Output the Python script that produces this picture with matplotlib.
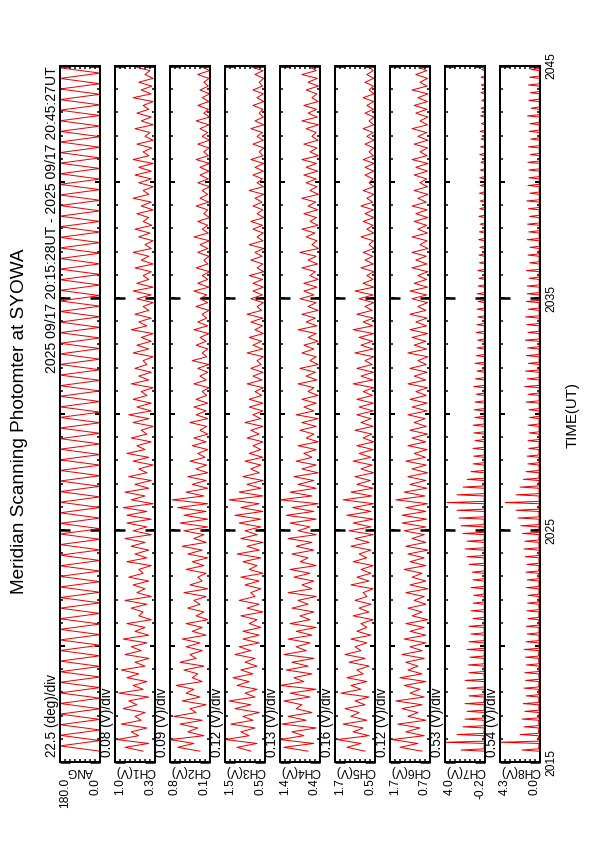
import matplotlib
matplotlib.use('Agg')
import matplotlib.pyplot as plt
import numpy as np
from matplotlib.ticker import MultipleLocator, FixedLocator

plt.rcParams['font.family'] = ['Liberation Sans', 'DejaVu Sans']

# time axis: minutes after 20:00 UT
START_MIN = 15 + 28 / 60.0
CH_STEP_SEC = 10.0     # channel samples (trough, peak, trough, ...)
ANG_STEP_SEC = 13.7    # scan angle samples
SPIKE_SEC = 3.0        # half width of a narrow spike (CH7, CH8)
TIME_TICKS = [15, 25, 35, 45]
TIME_LABELS = ['2015', '2025', '2035', '2045']

panel_names = ['ANG', 'CH1(V)', 'CH2(V)', 'CH3(V)', 'CH4(V)', 'CH5(V)', 'CH6(V)', 'CH7(V)', 'CH8(V)']
per_div = [22.5, 0.08, 0.09, 0.12, 0.13, 0.16, 0.12, 0.53, 0.54]
div_units = ['(deg)/div'] + ['(V)/div'] * 8
range_low = [0.0, 0.33, 0.10, 0.54, 0.40, 0.46, 0.70, -0.20, 0.00]
narrow_spikes = [False, False, False, False, False, False, True, True]

ang_deg = [0, 180] * 66

# per scan: peak values and trough values (V), 20 s apart, 20:15:28 -> 20:45:08
ch1_peak = [0.81, 0.94, 0.71, 0.87, 0.65, 0.84, 0.75, 0.91, 0.68, 0.78, 0.87, 0.65, 0.81, 0.71, 0.84,
            0.65, 0.78, 0.59, 0.71, 0.81, 0.62, 0.68, 0.75, 0.59, 0.78, 0.65, 0.71, 0.81, 0.68, 0.78,
            0.78, 0.84, 0.71, 0.81, 0.65, 0.75, 0.59, 0.68, 0.78, 0.62, 0.71, 0.55, 0.68, 0.75, 0.62,
            0.68, 0.55, 0.71, 0.59, 0.65, 0.52, 0.68, 0.62, 0.55, 0.71, 0.59, 0.65, 0.52, 0.62, 0.68,
            0.62, 0.52, 0.65, 0.55, 0.68, 0.49, 0.59, 0.65, 0.52, 0.62, 0.55, 0.68, 0.52, 0.59, 0.65,
            0.59, 0.68, 0.52, 0.62, 0.49, 0.65, 0.55, 0.62, 0.52, 0.68, 0.55, 0.59, 0.49, 0.65, 0.55]
ch1_base = [0.52, 0.43, 0.59, 0.46, 0.55, 0.49, 0.62, 0.43, 0.52, 0.46, 0.59, 0.49, 0.43, 0.55, 0.46,
            0.43, 0.49, 0.39, 0.52, 0.46, 0.39, 0.49, 0.43, 0.52, 0.39, 0.46, 0.43, 0.49, 0.39, 0.46,
            0.39, 0.46, 0.36, 0.49, 0.43, 0.39, 0.46, 0.36, 0.43, 0.49, 0.39, 0.46, 0.36, 0.43, 0.39,
            0.39, 0.46, 0.36, 0.43, 0.39, 0.46, 0.36, 0.43, 0.39, 0.36, 0.46, 0.39, 0.43, 0.36, 0.39,
            0.36, 0.43, 0.39, 0.36, 0.43, 0.39, 0.36, 0.41, 0.38, 0.43, 0.36, 0.39, 0.43, 0.36, 0.39,
            0.39, 0.36, 0.43, 0.38, 0.36, 0.41, 0.36, 0.39, 0.43, 0.36, 0.39, 0.38, 0.36, 0.41, 0.39]
ch2_peak = [0.68, 0.82, 0.50, 0.64, 0.75, 0.46, 0.60, 0.53, 0.71, 0.42, 0.57, 0.64, 0.46, 0.53, 0.60,
            0.42, 0.53, 0.35, 0.50, 0.39, 0.57, 0.46, 0.32, 0.53, 0.42, 0.50, 0.60, 0.39, 0.57, 0.64,
            0.57, 0.68, 0.78, 0.53, 0.42, 0.50, 0.35, 0.46, 0.32, 0.42, 0.39, 0.28, 0.46, 0.35, 0.39,
            0.35, 0.24, 0.39, 0.28, 0.32, 0.42, 0.24, 0.35, 0.28, 0.39, 0.32, 0.24, 0.35, 0.28, 0.39,
            0.32, 0.24, 0.35, 0.21, 0.32, 0.28, 0.39, 0.24, 0.32, 0.21, 0.35, 0.28, 0.24, 0.32, 0.28,
            0.28, 0.35, 0.21, 0.32, 0.24, 0.28, 0.35, 0.21, 0.32, 0.24, 0.28, 0.21, 0.32, 0.24, 0.28]
ch2_base = [0.28, 0.39, 0.21, 0.32, 0.24, 0.35, 0.17, 0.28, 0.39, 0.24, 0.32, 0.21, 0.35, 0.24, 0.28,
            0.17, 0.24, 0.14, 0.21, 0.28, 0.17, 0.14, 0.24, 0.17, 0.21, 0.14, 0.24, 0.17, 0.21, 0.14,
            0.14, 0.17, 0.14, 0.21, 0.14, 0.17, 0.14, 0.16, 0.19, 0.14, 0.17, 0.14, 0.16, 0.14, 0.17,
            0.14, 0.16, 0.12, 0.17, 0.14, 0.12, 0.16, 0.14, 0.17, 0.12, 0.14, 0.16, 0.12, 0.14, 0.16,
            0.12, 0.14, 0.11, 0.14, 0.12, 0.14, 0.11, 0.13, 0.14, 0.11, 0.14, 0.12, 0.14, 0.11, 0.13,
            0.12, 0.11, 0.13, 0.12, 0.11, 0.14, 0.12, 0.11, 0.13, 0.12, 0.11, 0.13, 0.12, 0.11, 0.13]
ch3_peak = [1.21, 1.50, 1.12, 1.36, 1.07, 1.26, 1.40, 1.02, 1.21, 1.31, 1.12, 1.02, 1.26, 1.16, 1.07,
            1.07, 0.92, 1.12, 0.97, 1.16, 0.88, 1.02, 1.12, 0.92, 1.07, 1.21, 0.97, 1.12, 1.02, 1.16,
            1.26, 1.12, 1.40, 1.16, 0.97, 1.07, 0.88, 1.02, 0.92, 0.83, 0.97, 0.88, 1.02, 0.83, 0.92,
            0.92, 0.78, 0.97, 0.83, 0.88, 0.73, 0.97, 0.83, 0.92, 0.78, 0.88, 0.97, 0.73, 0.88, 0.83,
            0.83, 0.92, 0.73, 0.88, 0.78, 0.92, 0.73, 0.83, 0.88, 0.73, 0.83, 0.78, 0.92, 0.73, 0.83,
            0.78, 0.88, 0.68, 0.83, 0.73, 0.88, 0.78, 0.68, 0.83, 0.73, 0.83, 0.68, 0.78, 0.88, 0.73]
ch3_base = [0.88, 0.73, 0.92, 0.78, 0.83, 0.68, 0.88, 0.78, 0.73, 0.92, 0.83, 0.73, 0.78, 0.88, 0.68,
            0.68, 0.64, 0.73, 0.59, 0.68, 0.78, 0.64, 0.68, 0.59, 0.73, 0.64, 0.68, 0.59, 0.73, 0.64,
            0.64, 0.59, 0.68, 0.59, 0.64, 0.59, 0.68, 0.64, 0.59, 0.64, 0.59, 0.68, 0.59, 0.64, 0.59,
            0.59, 0.62, 0.58, 0.61, 0.59, 0.63, 0.58, 0.60, 0.62, 0.58, 0.60, 0.59, 0.62, 0.58, 0.60,
            0.58, 0.60, 0.57, 0.59, 0.61, 0.57, 0.59, 0.58, 0.60, 0.57, 0.59, 0.61, 0.57, 0.58, 0.60,
            0.58, 0.57, 0.59, 0.57, 0.58, 0.60, 0.57, 0.58, 0.59, 0.57, 0.58, 0.60, 0.57, 0.59, 0.58]
ch4_peak = [1.34, 1.44, 1.13, 1.39, 1.23, 1.02, 1.34, 1.18, 1.44, 1.08, 1.28, 1.13, 1.34, 1.02, 1.23,
            1.02, 1.18, 0.92, 1.13, 0.97, 1.23, 0.87, 1.08, 1.18, 0.92, 1.13, 1.02, 1.23, 0.97, 1.18,
            1.28, 1.13, 1.44, 1.18, 0.97, 1.08, 0.87, 1.02, 0.82, 0.97, 0.76, 0.92, 0.87, 1.02, 0.82,
            0.87, 0.71, 0.97, 0.76, 0.92, 0.66, 0.87, 0.82, 0.71, 0.97, 0.76, 0.87, 0.71, 0.92, 0.82,
            0.82, 0.66, 0.87, 0.71, 0.92, 0.61, 0.76, 0.87, 0.66, 0.82, 0.71, 0.87, 0.66, 0.76, 0.82,
            0.76, 0.87, 0.66, 0.82, 0.61, 0.76, 0.87, 0.71, 0.82, 0.61, 0.76, 0.71, 0.87, 0.66, 0.76]
ch4_base = [0.71, 0.56, 0.82, 0.50, 0.76, 0.61, 0.87, 0.66, 0.50, 0.82, 0.61, 0.71, 0.56, 0.76, 0.66,
            0.61, 0.50, 0.66, 0.56, 0.71, 0.50, 0.61, 0.56, 0.66, 0.50, 0.71, 0.56, 0.61, 0.50, 0.66,
            0.50, 0.56, 0.45, 0.61, 0.50, 0.56, 0.45, 0.50, 0.61, 0.50, 0.45, 0.56, 0.50, 0.45, 0.56,
            0.50, 0.45, 0.56, 0.48, 0.52, 0.45, 0.50, 0.56, 0.45, 0.50, 0.48, 0.52, 0.45, 0.50, 0.56,
            0.48, 0.45, 0.52, 0.46, 0.50, 0.44, 0.48, 0.53, 0.45, 0.49, 0.46, 0.51, 0.44, 0.48, 0.50,
            0.46, 0.49, 0.44, 0.48, 0.45, 0.50, 0.44, 0.47, 0.49, 0.45, 0.48, 0.44, 0.47, 0.50, 0.45]
ch5_peak = [1.36, 1.68, 1.16, 1.48, 1.23, 1.42, 1.10, 1.55, 1.23, 1.36, 1.04, 1.29, 1.42, 1.10, 1.23,
            1.04, 0.91, 1.16, 0.97, 1.10, 0.84, 1.23, 1.04, 0.91, 1.16, 0.97, 1.23, 1.10, 1.29, 1.16,
            1.36, 1.16, 1.48, 1.23, 1.04, 1.10, 0.91, 1.16, 0.97, 1.04, 0.84, 1.10, 0.91, 1.04, 0.97,
            1.04, 0.84, 1.16, 0.91, 1.04, 0.78, 1.10, 0.91, 0.97, 1.16, 0.84, 1.04, 0.78, 0.97, 1.10,
            0.84, 0.72, 0.91, 0.78, 0.84, 0.65, 0.91, 0.72, 0.84, 0.78, 0.91, 0.72, 0.84, 0.65, 0.78,
            0.78, 0.84, 0.65, 0.78, 0.72, 0.84, 0.65, 0.78, 0.72, 0.84, 0.65, 0.78, 0.72, 0.65, 0.78]
ch5_base = [0.78, 0.91, 0.65, 0.84, 0.72, 0.97, 0.78, 0.65, 0.91, 0.72, 0.84, 0.65, 0.78, 0.91, 0.72,
            0.59, 0.72, 0.52, 0.65, 0.59, 0.72, 0.52, 0.65, 0.59, 0.52, 0.72, 0.59, 0.65, 0.52, 0.59,
            0.52, 0.59, 0.50, 0.56, 0.52, 0.61, 0.50, 0.55, 0.59, 0.52, 0.50, 0.56, 0.52, 0.59, 0.51,
            0.51, 0.54, 0.50, 0.53, 0.51, 0.55, 0.50, 0.52, 0.54, 0.50, 0.53, 0.51, 0.55, 0.50, 0.52,
            0.50, 0.52, 0.49, 0.51, 0.53, 0.49, 0.51, 0.50, 0.52, 0.49, 0.51, 0.53, 0.49, 0.50, 0.52,
            0.50, 0.49, 0.51, 0.50, 0.49, 0.52, 0.50, 0.49, 0.51, 0.50, 0.49, 0.51, 0.50, 0.52, 0.49]
ch6_peak = [1.42, 1.61, 1.28, 1.47, 1.23, 1.37, 1.52, 1.18, 1.32, 1.42, 1.23, 1.28, 1.37, 1.18, 1.32,
            1.18, 1.28, 1.13, 1.23, 1.08, 1.28, 1.18, 1.13, 1.32, 1.18, 1.23, 1.28, 1.13, 1.32, 1.37,
            1.37, 1.28, 1.52, 1.32, 1.18, 1.23, 1.13, 1.28, 1.08, 1.23, 1.13, 1.18, 1.08, 1.23, 1.13,
            1.18, 1.04, 1.23, 1.08, 1.18, 0.99, 1.23, 1.08, 1.13, 1.18, 1.04, 1.18, 0.99, 1.13, 1.18,
            1.08, 0.99, 1.13, 1.04, 1.13, 0.94, 1.13, 0.99, 1.08, 1.04, 1.13, 0.99, 1.08, 0.94, 1.08,
            1.04, 1.13, 0.94, 1.08, 0.99, 1.13, 0.94, 1.04, 1.08, 0.99, 1.13, 0.94, 1.04, 0.99, 1.08]
ch6_base = [0.89, 0.99, 0.84, 0.94, 0.80, 0.99, 0.89, 0.84, 0.94, 0.80, 0.89, 0.99, 0.84, 0.89, 0.80,
            0.80, 0.84, 0.75, 0.89, 0.80, 0.84, 0.75, 0.80, 0.89, 0.80, 0.84, 0.75, 0.80, 0.84, 0.80,
            0.78, 0.80, 0.76, 0.82, 0.78, 0.80, 0.76, 0.79, 0.81, 0.77, 0.80, 0.76, 0.79, 0.82, 0.77,
            0.77, 0.79, 0.76, 0.80, 0.77, 0.79, 0.75, 0.78, 0.80, 0.76, 0.78, 0.77, 0.80, 0.76, 0.78,
            0.76, 0.78, 0.75, 0.77, 0.79, 0.75, 0.77, 0.76, 0.78, 0.75, 0.77, 0.79, 0.75, 0.76, 0.78,
            0.76, 0.75, 0.77, 0.76, 0.75, 0.78, 0.76, 0.75, 0.77, 0.76, 0.75, 0.77, 0.76, 0.78, 0.75]
ch7_peak = [2.34, 4.00, 2.77, 2.13, 1.92, 1.71, 1.92, 1.50, 1.71, 1.92, 1.50, 1.58, 1.41, 1.71, 1.50,
            1.28, 1.50, 1.07, 1.28, 1.07, 0.99, 1.28, 1.07, 1.16, 1.50, 1.71, 1.92, 1.71, 2.13, 2.34,
            2.56, 2.77, 3.83, 2.77, 2.13, 1.71, 1.28, 1.07, 0.99, 1.07, 0.86, 0.99, 1.07, 0.86, 0.94,
            0.86, 0.73, 0.99, 0.82, 0.65, 0.86, 0.73, 0.65, 0.56, 0.73, 0.65, 0.56, 0.65, 0.52, 0.61,
            0.52, 0.44, 0.56, 0.39, 0.44, 0.35, 0.48, 0.39, 0.31, 0.44, 0.35, 0.31, 0.39, 0.31, 0.35,
            0.31, 0.22, 0.35, 0.27, 0.22, 0.31, 0.18, 0.27, 0.22, 0.14, 0.22, 0.18, 0.22, 0.14, 0.18]
ch7_base = [-0.10, -0.12, -0.08, -0.13, -0.10, -0.14, -0.09, -0.12, -0.11, -0.13, -0.09, -0.12, -0.10, -0.14, -0.11,
            -0.12, -0.10, -0.13, -0.11, -0.14, -0.10, -0.12, -0.13, -0.11, -0.14, -0.10, -0.12, -0.11, -0.13, -0.10,
            -0.12, -0.14, -0.10, -0.13, -0.11, -0.12, -0.14, -0.10, -0.13, -0.12, -0.11, -0.14, -0.12, -0.10, -0.13,
            -0.14, -0.12, -0.13, -0.15, -0.12, -0.14, -0.13, -0.15, -0.12, -0.14, -0.13, -0.15, -0.14, -0.12, -0.15,
            -0.14, -0.15, -0.13, -0.16, -0.14, -0.15, -0.13, -0.16, -0.15, -0.14, -0.16, -0.15, -0.13, -0.16, -0.15,
            -0.15, -0.16, -0.14, -0.17, -0.15, -0.16, -0.14, -0.17, -0.16, -0.15, -0.17, -0.16, -0.15, -0.17, -0.16]
ch8_peak = [1.94, 4.30, 2.16, 1.73, 1.94, 1.64, 1.81, 1.51, 1.73, 1.56, 1.64, 1.47, 1.56, 1.73, 1.51,
            1.38, 1.47, 1.30, 1.42, 1.34, 1.30, 1.45, 1.38, 1.51, 1.42, 1.60, 1.73, 1.64, 1.90, 2.07,
            2.38, 2.59, 3.76, 2.59, 2.16, 1.81, 1.51, 1.30, 1.38, 1.21, 1.30, 1.17, 1.30, 1.12, 1.21,
            1.51, 1.30, 1.64, 1.38, 1.56, 1.25, 1.47, 1.34, 1.60, 1.30, 1.43, 1.56, 1.28, 1.47, 1.38,
            1.38, 1.17, 1.47, 1.12, 1.30, 1.08, 1.38, 1.21, 1.34, 1.12, 1.25, 1.43, 1.10, 1.30, 1.21,
            1.21, 1.30, 1.04, 1.25, 0.99, 1.17, 1.08, 1.34, 0.95, 1.21, 1.04, 1.25, 1.12, 0.99, 1.17]
ch8_base = [0.15, 0.10, 0.18, 0.12, 0.15, 0.10, 0.14, 0.12, 0.16, 0.10, 0.13, 0.11, 0.15, 0.12, 0.10,
            0.12, 0.10, 0.14, 0.11, 0.13, 0.10, 0.12, 0.11, 0.14, 0.10, 0.12, 0.11, 0.13, 0.10, 0.12,
            0.10, 0.12, 0.09, 0.11, 0.10, 0.12, 0.09, 0.11, 0.10, 0.12, 0.09, 0.10, 0.11, 0.09, 0.10,
            0.09, 0.10, 0.08, 0.10, 0.09, 0.08, 0.10, 0.09, 0.08, 0.10, 0.09, 0.08, 0.10, 0.09, 0.08,
            0.08, 0.09, 0.07, 0.08, 0.10, 0.07, 0.08, 0.09, 0.07, 0.08, 0.09, 0.07, 0.08, 0.09, 0.07,
            0.07, 0.06, 0.08, 0.07, 0.06, 0.07, 0.08, 0.06, 0.07, 0.08, 0.06, 0.07, 0.06, 0.08, 0.07]

channel_peaks = [ch1_peak, ch2_peak, ch3_peak, ch4_peak, ch5_peak, ch6_peak, ch7_peak, ch8_peak]
channel_bases = [ch1_base, ch2_base, ch3_base, ch4_base, ch5_base, ch6_base, ch7_base, ch8_base]


def series(i):
    if i == 0:
        v = np.array(ang_deg, float)
        t = START_MIN + np.arange(len(v)) * ANG_STEP_SEC / 60.0
        return t, v
    base = np.array(channel_bases[i - 1], float)
    peak = np.array(channel_peaks[i - 1], float)
    if narrow_spikes[i - 1]:
        # trace rests on the baseline and jumps out for a short spike each scan
        t_scan = START_MIN + np.arange(len(peak)) * 2 * CH_STEP_SEC / 60.0
        d = SPIKE_SEC / 60.0
        t = np.column_stack([t_scan, t_scan + d, t_scan + 2 * d]).ravel()
        v = np.column_stack([base, peak, base]).ravel()
        return t, v
    v = np.column_stack([base, peak]).ravel()
    t = START_MIN + np.arange(len(v)) * CH_STEP_SEC / 60.0
    return t, v


W, H = 595, 842
fig = plt.figure(figsize=(W / 72.0, H / 72.0), dpi=72)

def fx(x):
    return x / W

def fy(y):
    return 1 - y / H

left0, pw, gap = 60, 40, 55
top, bot = 66, 762

for i in range(9):
    x0 = left0 + i * gap
    ax = fig.add_axes([fx(x0), fy(bot), pw / W, (bot - top) / H])
    lo = range_low[i]
    hi = lo + 8 * per_div[i]
    t, v = series(i)
    ax.plot(v, t, color='#ee0000', lw=1.0)
    ax.set_xlim(hi, lo)
    ax.set_ylim(15, 45)
    for s in ax.spines.values():
        s.set_linewidth(2)
    ax.xaxis.set_major_locator(FixedLocator([lo + k * per_div[i] for k in range(9)]))
    ax.yaxis.set_major_locator(MultipleLocator(5))
    ax.yaxis.set_minor_locator(MultipleLocator(1))
    ax.tick_params(axis='x', direction='in', length=3, width=1.5, top=True, bottom=True,
                   labelbottom=False)
    ax.tick_params(axis='y', which='major', direction='in', length=5, width=2,
                   left=True, right=True, labelleft=False)
    ax.tick_params(axis='y', which='minor', direction='in', length=3, width=1.5,
                   left=True, right=True)
    for side in ('left', 'right'):
        sec = ax.secondary_yaxis(side)
        sec.set_yticks(TIME_TICKS)
        sec.tick_params(direction='in', length=10, width=2.5, labelleft=False, labelright=False)
        sec.spines[side].set_visible(False)
        if side == 'right' and i == 8:
            sec.set_yticklabels(TIME_LABELS)
            sec.tick_params(labelright=True, labelrotation=90, labelsize=12, pad=5)
            for lab in sec.get_yticklabels():
                lab.set_va('center')

    # channel name under the panel (reads upside down)
    ax.text(0.5, -0.004, panel_names[i], transform=ax.transAxes, rotation=180,
            ha='center', va='top', fontsize=12)
    # range ends
    ax.text(5 / pw, -16 / (bot - top), '%.1f' % hi, transform=ax.transAxes,
            rotation=90, ha='center', va='top', fontsize=12)
    ax.text(1 - 5 / pw, -16 / (bot - top), '%.1f' % lo, transform=ax.transAxes,
            rotation=90, ha='center', va='top', fontsize=12)
    # scale per division
    ax.text(-8 / pw, 5 / (bot - top), '%g %s' % (per_div[i], div_units[i]),
            transform=ax.transAxes, rotation=90, ha='center', va='bottom', fontsize=13.5)
    if i == 0:
        ax.text(-8 / pw, 1.0, '2025 09/17 20:15:28UT - 2025 09/17 20:45:27UT',
                transform=ax.transAxes, rotation=90, ha='center', va='top', fontsize=14)

fig.text(fx(20), fy(421), 'Meridian Scanning Photomter at SYOWA', rotation=90,
         ha='center', va='center', fontsize=19)
fig.text(fx(573), fy(415), 'TIME(UT)', rotation=90, ha='center', va='center', fontsize=15)

fig.savefig('out.png', dpi=72)
